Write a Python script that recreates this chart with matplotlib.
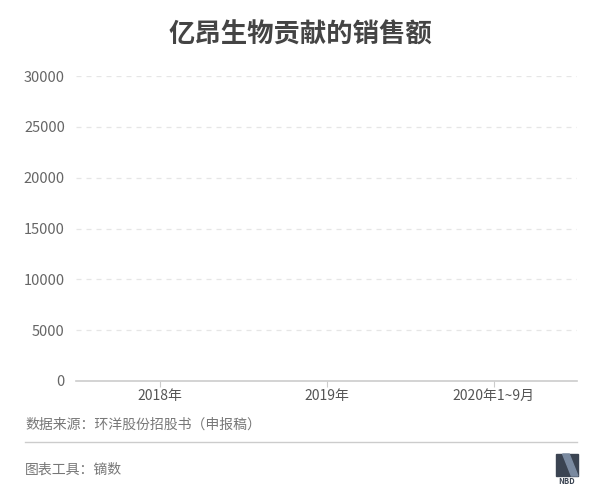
import numpy as np
import matplotlib.pyplot as plt
from matplotlib.patches import Rectangle, Polygon

plt.rcParams['font.family'] = ['Noto Sans CJK SC', 'DejaVu Sans']

# sales contributed by Yiang Bio (no visible bars in the reference)
periods = ['2018年', '2019年', '2020年1~9月']
sales = [0, 0, 0]
yticks = [0, 5000, 10000, 15000, 20000, 25000, 30000]

title = '亿昂生物贡献的销售额'
source = '数据来源：环洋股份招股书（申报稿）'
tool = '图表工具：镝数'


def main():
    fig = plt.figure(figsize=(6, 5), dpi=100)
    ax = fig.add_axes([76 / 600, 1 - 381 / 500, 501 / 600, 305 / 500])

    x = np.arange(len(periods))
    ax.bar(x, sales, width=0.5, color='#4a7ebb')

    ax.set_xlim(-0.5, len(periods) - 0.5)
    ax.set_ylim(0, 30000)
    ax.set_yticks(yticks)
    ax.set_yticklabels([str(t) for t in yticks], fontsize=10.5, color='#666666')
    ax.set_xticks(x)
    ax.set_xticklabels(periods, fontsize=10, color='#555555')

    for t in yticks[1:]:
        ax.axhline(t, color='#e6e6e6', lw=0.9, ls=(0, (4, 4)), zorder=0)

    for s in ['top', 'right', 'left']:
        ax.spines[s].set_visible(False)
    ax.spines['bottom'].set_color('#cccccc')
    ax.spines['bottom'].set_linewidth(1.2)
    ax.tick_params(axis='y', length=0, pad=8)
    ax.tick_params(axis='x', length=4, color='#cccccc', pad=2)

    fig.text(0.5, 1 - 35 / 500, title, ha='center', va='center',
             fontsize=19, fontweight='bold', color='#444444')
    fig.text(25 / 600, 1 - 425 / 500, source, ha='left', va='center',
             fontsize=10, color='#777777')
    fig.add_artist(plt.Line2D([25 / 600, 577 / 600], [1 - 442 / 500, 1 - 442 / 500],
                              color='#cccccc', lw=1, transform=fig.transFigure))
    fig.text(25 / 600, 1 - 470 / 500, tool, ha='left', va='center',
             fontsize=10, color='#777777')

    # small NBD logo
    lx, ly, lw, lh = 556 / 600, 1 - 476 / 500, 22 / 600, 22 / 500
    fig.add_artist(Rectangle((lx, ly), lw, lh, color='#3b4452', transform=fig.transFigure))
    fig.add_artist(Polygon([(lx + lw * 0.3, ly + lh), (lx + lw * 0.6, ly + lh),
                            (lx + lw, ly), (lx + lw * 0.7, ly)],
                           color='#7a8aa0', transform=fig.transFigure))
    fig.text(lx + lw / 2, 1 - 482 / 500, 'NBD', ha='center', va='center',
             fontsize=5.5, fontweight='bold', color='#3b4452')

    fig.savefig('out.png', dpi=100)


if __name__ == '__main__':
    main()
